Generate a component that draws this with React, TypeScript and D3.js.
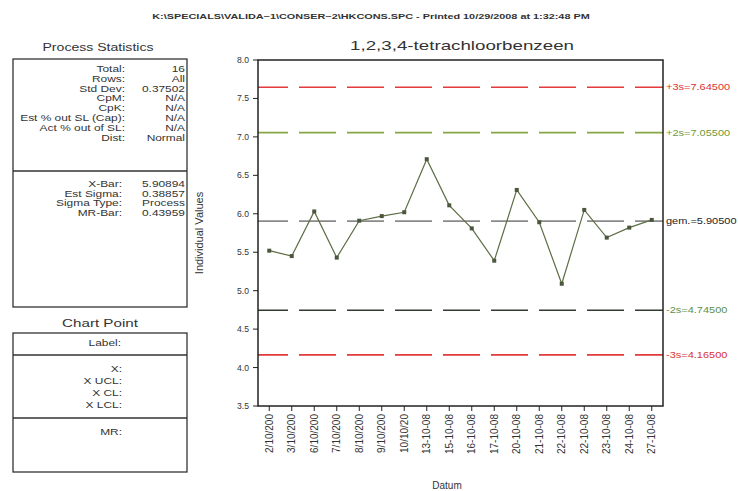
import React from 'react';
import * as d3 from 'd3';

const dates = [
  '2/10/200', '3/10/200', '6/10/200', '7/10/200', '8/10/200', '9/10/200',
  '10/10/20', '13-10-08', '15-10-08', '16-10-08', '17-10-08', '20-10-08',
  '21-10-08', '22-10-08', '22-10-08', '23-10-08', '24-10-08', '27-10-08',
];
const values = [
  5.52, 5.45, 6.03, 5.43, 5.91, 5.97, 6.02, 6.71, 6.11, 5.81, 5.39, 6.31,
  5.89, 5.09, 6.05, 5.69, 5.82, 5.92,
];
const yTicks = [8.0, 7.5, 7.0, 6.5, 6.0, 5.5, 5.0, 4.5, 4.0, 3.5];

const limitNames = ['+3s', '+2s', 'gem.', '-2s', '-3s'];
const limitValues = [7.645, 7.055, 5.905, 4.745, 4.165];
const limitLineColors = ['#e2393a', '#86a544', '#8a8a8a', '#2e3b2e', '#e2393a'];
const limitTextColors = ['#d93434', '#6f9a3c', '#222', '#5f8f4a', '#d93434'];

const statLabels1 = ['Total:', 'Rows:', 'Std Dev:', 'CpM:', 'CpK:', 'Est % out SL (Cap):', 'Act % out of SL:', 'Dist:'];
const statValues1 = ['16', 'All', '0.37502', 'N/A', 'N/A', 'N/A', 'N/A', 'Normal'];
const statLabels2 = ['X-Bar:', 'Est Sigma:', 'Sigma Type:', 'MR-Bar:'];
const statValues2 = ['5.90894', '0.38857', 'Process', '0.43959'];
const pointLabels = ['X:', 'X UCL:', 'X CL:', 'X LCL:'];

const font = 'Liberation Sans, Arial, sans-serif';

// text that is stretched sideways, like the printed report
const T: React.FC<{
  x: number; y: number; sx?: number; size: number; anchor?: string; fill?: string; weight?: string;
  children: React.ReactNode;
}> = ({ x, y, sx = 1, size, anchor = 'start', fill = '#333', weight = 'normal', children }) => (
  <text
    transform={`translate(${x},${y}) scale(${sx},1)`}
    textAnchor={anchor}
    fontSize={size}
    fill={fill}
    fontWeight={weight}
  >
    {children}
  </text>
);

const App: React.FC = () => {
  const W = 738;
  const H = 491;
  const left = 258;
  const right = 663;
  const top = 60;
  const bottom = 406;
  const ps = 1.42;

  const x = d3.scalePoint<number>().domain(d3.range(dates.length)).range([left, right]).padding(0.5);
  const y = d3.scaleLinear().domain([3.5, 8.0]).range([bottom, top]);

  const line = d3
    .line<number>()
    .x((_, i) => x(i) as number)
    .y((d) => y(d));

  return (
    <svg width={W} height={H} style={{ position: 'absolute', left: 0, top: 0, background: '#fff' }} fontFamily={font}>
      <T x={371} y={19} sx={1.43} size={7.6} anchor="middle" weight="bold">
        K:\SPECIALS\VALIDA~1\CONSER~2\HKCONS.SPC - Printed 10/29/2008 at 1:32:48 PM
      </T>
      <T x={462} y={50} sx={1.5} size={12.5} anchor="middle">
        1,2,3,4-tetrachloorbenzeen
      </T>

      {/* process statistics panel */}
      <T x={98} y={51} sx={1.28} size={11} anchor="middle">Process Statistics</T>
      <rect x={13} y={59} width={174} height={248} fill="none" stroke="#333" strokeWidth={1.3} />
      <line x1={13} x2={187} y1={171} y2={171} stroke="#333" strokeWidth={1.3} />
      {statLabels1.map((s, i) => (
        <g key={s}>
          <T x={125} y={72 + i * 9.8} sx={ps} size={8.4} anchor="end">{s}</T>
          <T x={185} y={72 + i * 9.8} sx={ps} size={8.4} anchor="end">{statValues1[i]}</T>
        </g>
      ))}
      {statLabels2.map((s, i) => (
        <g key={s}>
          <T x={122} y={187 + i * 9.6} sx={ps} size={8.4} anchor="end">{s}</T>
          <T x={185} y={187 + i * 9.6} sx={ps} size={8.4} anchor="end">{statValues2[i]}</T>
        </g>
      ))}

      {/* chart point panel */}
      <T x={100} y={327} sx={1.38} size={11} anchor="middle">Chart Point</T>
      <rect x={13} y={333} width={174} height={139} fill="none" stroke="#333" strokeWidth={1.3} />
      <line x1={13} x2={187} y1={355} y2={355} stroke="#333" strokeWidth={1.3} />
      <line x1={13} x2={187} y1={418} y2={418} stroke="#333" strokeWidth={1.3} />
      <T x={121} y={346} sx={ps} size={8.4} anchor="end">Label:</T>
      {pointLabels.map((s, i) => (
        <T key={s} x={122} y={372 + i * 12} sx={ps} size={8.4} anchor="end">{s}</T>
      ))}
      <T x={122} y={435} sx={ps} size={8.4} anchor="end">MR:</T>

      {/* control limits */}
      {limitValues.map((v, i) => (
        <g key={limitNames[i]}>
          <line
            x1={left}
            x2={right}
            y1={y(v)}
            y2={y(v)}
            stroke={limitLineColors[i]}
            strokeWidth={1.6}
            strokeDasharray="37,11"
            strokeDashoffset={7}
          />
          <T x={right + 3} y={y(v) + 3} sx={1.28} size={8.6} fill={limitTextColors[i]}>
            {`${limitNames[i]}=${v.toFixed(5)}`}
          </T>
        </g>
      ))}

      {/* data */}
      <path d={line(values) || ''} fill="none" stroke="#5d6e44" strokeWidth={1.2} />
      {values.map((v, i) => (
        <rect key={i} x={(x(i) as number) - 2} y={y(v) - 2} width={4} height={4} fill="#4a573c" />
      ))}

      {/* frame and axes */}
      <rect x={left} y={top} width={right - left} height={bottom - top} fill="none" stroke="#222" strokeWidth={1.5} />
      {yTicks.map((t) => (
        <g key={t}>
          <line x1={left - 5} x2={left} y1={y(t)} y2={y(t)} stroke="#222" />
          <text x={left - 9} y={y(t)} dy="0.35em" textAnchor="end" fontSize={8.6} fill="#333">
            {t.toFixed(1)}
          </text>
        </g>
      ))}
      {dates.map((d, i) => (
        <g key={i} transform={`translate(${x(i)},${bottom})`}>
          <line y1={0} y2={5} stroke="#222" />
          <text transform="rotate(-90)" x={-8} y={0} dy="0.35em" textAnchor="end" fontSize={10} fill="#333">
            {d}
          </text>
        </g>
      ))}
      <text transform={`translate(203,${(top + bottom) / 2}) rotate(-90)`} textAnchor="middle" fontSize={11} fill="#333">
        Individual Values
      </text>
      <text x={447} y={489} textAnchor="middle" fontSize={10} fill="#333">Datum</text>
    </svg>
  );
};

export default App;
